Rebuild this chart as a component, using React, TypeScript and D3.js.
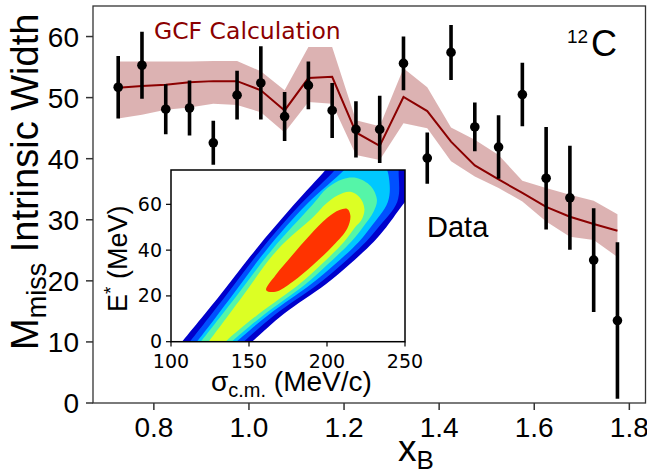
import React from 'react';
import * as d3 from 'd3';

// ---- Main data: Mmiss intrinsic width vs xB ----
const xB = [0.725, 0.775, 0.825, 0.875, 0.925, 0.975, 1.025, 1.075, 1.125, 1.175, 1.225, 1.275, 1.325, 1.375, 1.425, 1.475, 1.525, 1.575, 1.625, 1.675, 1.725, 1.775];
const widthVals = [51.7, 55.3, 48.1, 48.3, 42.6, 50.4, 52.4, 46.9, 52.0, 47.9, 44.8, 44.8, 55.6, 40.1, 57.4, 45.2, 41.9, 50.5, 36.8, 33.6, 23.4, 13.5];
const widthErr = [5.1, 5.5, 4.1, 4.5, 3.6, 4.0, 6.0, 4.0, 3.9, 4.5, 4.6, 5.5, 4.4, 4.2, 4.5, 4.0, 5.2, 5.2, 8.4, 8.5, 8.5, 12.8];

// ---- GCF calculation ----
const gcfCenter = [51.6, 51.9, 52.1, 52.5, 52.7, 52.7, 51.2, 47.9, 53.2, 53.4, 44.3, 42.1, 50.1, 47.8, 42.8, 38.9, 36.6, 34.4, 32.1, 30.5, 29.3, 28.2];
const gcfUpper = [55.9, 55.9, 55.9, 55.9, 56.0, 56.0, 54.3, 51.2, 58.3, 58.3, 46.3, 45.3, 54.8, 51.7, 45.1, 43.1, 40.6, 36.4, 35.2, 34.1, 33.1, 30.9];
const gcfLower = [46.6, 47.2, 48.0, 48.4, 49.0, 48.8, 47.6, 44.3, 49.3, 49.0, 40.6, 39.8, 45.8, 45.0, 39.6, 37.1, 35.2, 33.0, 29.7, 27.2, 26.7, 23.9];

// ---- Axis ticks ----
const xTicks = [0.8, 1.0, 1.2, 1.4, 1.6, 1.8];
const yTicks = [0, 10, 20, 30, 40, 50, 60];
const insetXTicks = [100, 150, 200, 250];
const insetYTicks = [0, 20, 40, 60];

// ---- Inset filled contours (sigma_cm [MeV/c], E* [MeV]) ----
const contourL1: [number, number][] = [[102, -4], [107, 0], [131, 20], [154, 40], [179, 60], [199, 75], [205, 80], [230, 90], [262, 85], [262, 70], [250, 61], [238, 50], [230, 43.7], [214, 33.5], [199, 25], [172, 12], [152, 0], [145, -4]];
const contourL2: [number, number][] = [[107, -4], [112, 0], [135, 20], [157.5, 40], [183, 60], [205, 75], [210, 80], [228, 85], [244, 80], [246, 72], [245, 61], [233, 50], [225, 43.7], [209, 33.5], [194, 25], [167, 12], [146.5, 0], [140, -4]];
const contourL3: [number, number][] = [[111, -4], [116.5, 0], [139, 20], [161, 40], [187, 60], [211, 75], [216, 79], [228, 80.5], [237, 77], [240, 70], [239, 61], [228, 50], [220.5, 43.7], [204.5, 33.5], [189.5, 25], [163, 12], [142, 0], [136, -4]];
const contourL4: [number, number][] = [[114, -4], [119, 0], [142, 20], [164.5, 40], [191, 60], [200, 67], [210, 71], [219, 71.5], [228, 68], [232, 62], [230, 57], [223, 50], [215.5, 43.7], [200, 33.5], [186, 25], [160, 12], [139, 0], [133, -4]];
const contourL5: [number, number][] = [[119, -4], [124, 0], [146, 20], [168, 40], [192, 55], [199, 60], [207, 64], [215, 65.5], [221, 63], [224, 58], [222, 53], [218, 50], [211, 43.7], [196, 33.5], [182, 25], [156, 12], [135, 0], [130, -4]];
const contourL6: [number, number][] = [[161, 22.5], [167, 29], [178, 38], [189, 46.5], [200, 54], [208, 57.5], [213, 58], [215, 55], [213, 49.5], [204, 42], [191, 33.5], [178, 26.2], [167, 21.8]];
const contourColors = ['#0000cc', '#0050ff', '#00c8ff', '#55f5a8', '#dcff24', '#ff3300'];
const contours = [contourL1, contourL2, contourL3, contourL4, contourL5, contourL6];

const SANS = "'Liberation Sans', Arial, Helvetica, sans-serif";
const DEJAVU = "'DejaVu Sans', sans-serif";

export default function App() {
  const W = 647, H = 476;
  const x = d3.scaleLinear().domain([0.672, 1.834]).range([93, 645.5]);
  const y = d3.scaleLinear().domain([0, 65]).range([403, 6]);

  const idx = xB.map((_, i) => i);
  const band = d3.area<number>()
    .x(i => x(xB[i]))
    .y0(i => y(gcfLower[i]))
    .y1(i => y(gcfUpper[i]))(idx) || '';
  const line = d3.line<number>()
    .x(i => x(xB[i]))
    .y(i => y(gcfCenter[i]))(idx) || '';

  // inset
  const sx = d3.scaleLinear().domain([100, 250]).range([171, 405]);
  const sy = d3.scaleLinear().domain([0, 75]).range([341.7, 170]);
  const cLine = d3.line<[number, number]>()
    .x(d => sx(d[0]))
    .y(d => sy(d[1]))
    .curve(d3.curveCatmullRomClosed.alpha(0.5));

  const frameColor = '#333';

  return (
    <svg width={W} height={H} style={{ position: 'absolute', left: 0, top: 0, background: '#fff' }}>
      <defs>
        <clipPath id="insetClip">
          <rect x={171} y={170} width={234} height={171.7} />
        </clipPath>
        <clipPath id="mainClip">
          <rect x={93} y={6} width={552.5} height={397} />
        </clipPath>
      </defs>
      <rect x={0} y={0} width={W} height={H} fill="#fff" />

      {/* GCF band and line */}
      <g clipPath="url(#mainClip)">
        <path d={band} fill="#8b0000" fillOpacity={0.3} stroke="none" />
        <path d={line} fill="none" stroke="#8b0000" strokeWidth={2} />
        {/* data */}
        {xB.map((xv, i) => (
          <g key={i}>
            <line x1={x(xv)} x2={x(xv)} y1={y(widthVals[i] - widthErr[i])} y2={y(widthVals[i] + widthErr[i])} stroke="#000" strokeWidth={3.6} />
            <circle cx={x(xv)} cy={y(widthVals[i])} r={4.8} fill="#000" />
          </g>
        ))}
      </g>

      {/* main frame */}
      <rect x={93} y={6} width={552.5} height={397} fill="none" stroke={frameColor} strokeWidth={1.3} />
      {yTicks.map(t => (
        <g key={'y' + t}>
          <line x1={86} x2={93} y1={y(t)} y2={y(t)} stroke={frameColor} strokeWidth={1.5} />
          <text x={79} y={y(t) + 10} textAnchor="end" fontFamily={SANS} fontSize={28} fill="#000">{t}</text>
        </g>
      ))}
      {xTicks.map(t => (
        <g key={'x' + t}>
          <line x1={x(t)} x2={x(t)} y1={403} y2={410} stroke={frameColor} strokeWidth={1.5} />
          <text x={x(t)} y={437} textAnchor="middle" fontFamily={SANS} fontSize={28} fill="#000">{t.toFixed(1)}</text>
        </g>
      ))}

      {/* axis labels */}
      <text transform="translate(38,350) rotate(-90)" fontFamily={SANS} fontSize={38} fill="#000">
        M<tspan fontSize={27} dy={8}>miss</tspan><tspan dy={-8}> Intrinsic Width</tspan>
      </text>
      <text x={398} y={461} fontFamily={SANS} fontSize={37} fill="#000">
        x<tspan fontSize={26} dy={8}>B</tspan>
      </text>

      {/* annotations */}
      <text x={154} y={39} fontFamily={DEJAVU} fontSize={23.5} fill="#8b0000">GCF Calculation</text>
      <text x={567} y={43} fontFamily={SANS} fontSize={19} fill="#000">12</text>
      <text x={591} y={56} fontFamily={SANS} fontSize={36} fill="#000">C</text>
      <text x={427} y={237} fontFamily={SANS} fontSize={29} fill="#000">Data</text>

      {/* inset */}
      <rect x={171} y={170} width={234} height={171.7} fill="#fff" />
      <g clipPath="url(#insetClip)">
        {contours.map((c, i) => (
          <path key={i} d={cLine(c) || ''} fill={contourColors[i]} stroke="none" />
        ))}
      </g>
      <rect x={171} y={170} width={234} height={171.7} fill="none" stroke="#000" strokeWidth={1.5} />
      {insetXTicks.map(t => (
        <g key={'ix' + t}>
          <line x1={sx(t)} x2={sx(t)} y1={341.7} y2={346.5} stroke="#000" strokeWidth={1.2} />
          <text x={sx(t)} y={368} textAnchor="middle" fontFamily={DEJAVU} fontSize={19} fill="#000">{t}</text>
        </g>
      ))}
      {insetYTicks.map(t => (
        <g key={'iy' + t}>
          <line x1={166} x2={171} y1={sy(t)} y2={sy(t)} stroke="#000" strokeWidth={1.2} />
          <text x={162} y={sy(t) + 6.5} textAnchor="end" fontFamily={DEJAVU} fontSize={19} fill="#000">{t}</text>
        </g>
      ))}
      <text x={211} y={391} fontFamily={SANS} fontSize={28} fill="#000">
        σ<tspan fontSize={20} dy={6}>c.m.</tspan><tspan dy={-6}> (MeV/c)</tspan>
      </text>
      <text transform="translate(127,312) rotate(-90)" fontFamily={SANS} fontSize={27} fill="#000">
        E<tspan fontSize={19} dy={-10}>*</tspan><tspan dy={10}> (MeV)</tspan>
      </text>
    </svg>
  );
}
